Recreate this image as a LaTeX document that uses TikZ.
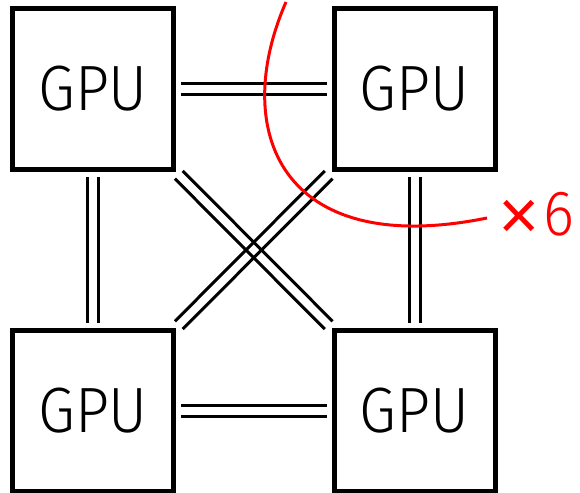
\documentclass[tikz,border=0pt]{standalone}
\usepackage{fontspec}
\setmainfont{Fira Sans}[UprightFont={* Light}]
\begin{document}
\begin{tikzpicture}[x=1pt,y=-1pt,
  gpu/.style={draw, line width=5pt, minimum size=161pt, inner sep=0pt,
    font=\fontsize{64}{64}\selectfont},
  link/.style={line width=3pt, shorten <=5pt, shorten >=5pt},
  linkd/.style={line width=3pt, shorten <=4pt, shorten >=4pt},
  redline/.style={red, line width=3pt}]
\useasboundingbox (0,0) rectangle (580,492);
\node[gpu] (tl) at (93,89) {\scalebox{0.93}[1]{GPU}};
\node[gpu] (tr) at (414.5,89) {\scalebox{0.93}[1]{GPU}};
\node[gpu] (bl) at (93,411) {\scalebox{0.93}[1]{GPU}};
\node[gpu] (br) at (414.5,411) {\scalebox{0.93}[1]{GPU}};
\newcommand\twin[7]{%
  \draw[#1, transform canvas={shift={(#4,#5)}}] (#2) -- (#3);
  \draw[#1, transform canvas={shift={(#6,#7)}}] (#2) -- (#3);}
\twin{link}{tl}{tr}{0pt}{5.5pt}{0pt}{-5.5pt}
\twin{link}{bl}{br}{0pt}{5.5pt}{0pt}{-5.5pt}
\twin{link}{tl}{bl}{5.5pt}{0pt}{-5.5pt}{0pt}
\twin{link}{tr}{br}{5.5pt}{0pt}{-5.5pt}{0pt}
\twin{linkd}{tl.south east}{br.north west}{3.9pt}{3.9pt}{-3.9pt}{-3.9pt}
\twin{linkd}{tr.south west}{bl.north east}{3.9pt}{-3.9pt}{-3.9pt}{3.9pt}
\coordinate (rs) at (286,2);
\coordinate (re) at (487,218);
\node[red, inner sep=0pt, anchor=base west, font=\fontsize{64}{64}\selectfont] (lbl) at (495,235) {\raisebox{-10pt}{\scalebox{1.5}{×}}\kern1pt\scalebox{0.92}[1]{6}};
\draw[redline] (rs) .. controls (230,130) and (280,260) .. (re);
\end{tikzpicture}
\end{document}
